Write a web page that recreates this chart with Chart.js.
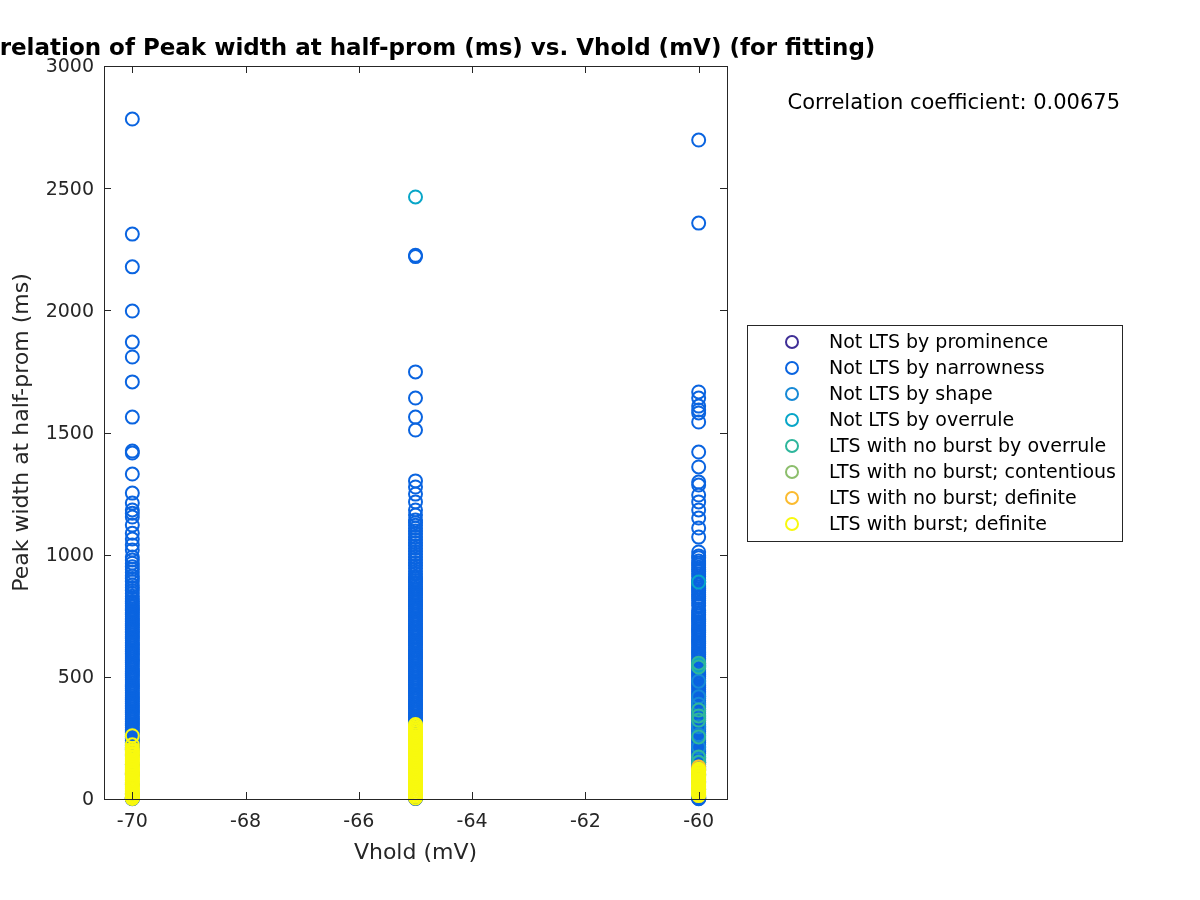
<!DOCTYPE html>
<html>
<head>
<meta charset="utf-8">
<script src="https://cdn.jsdelivr.net/npm/chart.js@4.4.1/dist/chart.umd.min.js"></script>
<style>
  body { margin: 0; background: #ffffff; }
  canvas { display: block; }
</style>
</head>
<body>
<canvas id="corrPlot" width="1200" height="900"></canvas>
<script>
// classes, in legend order
const classLabels = [
    "Not LTS by prominence",
    "Not LTS by narrowness",
    "Not LTS by shape",
    "Not LTS by overrule",
    "LTS with no burst by overrule",
    "LTS with no burst; contentious",
    "LTS with no burst; definite",
    "LTS with burst; definite"
];
const classColors = ["#3f2e96", "#0a64e0", "#1689d6", "#08a6c8", "#2eb69c", "#8cbe6c", "#fbbb30", "#f8f90e"];

// Vhold columns
const vholds = [-70, -65, -60];
const xTicks = [-70, -68, -66, -64, -62, -60];
const yTicks = [0, 500, 1000, 1500, 2000, 2500, 3000];
const corrCoef = "0.00675";

// peak widths (ms), per class, per Vhold column
const prominence70 = [4, 2];
const prominence65 = [3];
const prominence60 = [3, 6];

const narrowness70 = [2783, 2312, 2178, 1997, 1870, 1809, 1707, 1563, 1424, 1416, 1330, 1252, 1211, 1183, 1170, 1154,
    1121, 1088, 1064, 1040, 1019, 990, 978, 965, 951, 940, 928, 913, 902, 890, 876, 866, 853, 842, 830, 819, 808,
    800, 793, 786, 778, 771, 762, 755, 748, 740, 733, 725, 717, 710, 702, 694, 687, 680, 672, 664, 657, 650, 641, 634,
    627, 619, 611, 603, 596, 589, 581, 573, 566, 558, 551, 543, 535, 528, 521, 513, 505, 497, 490, 483, 475, 467, 460,
    452, 444, 437, 430, 422, 414, 407, 399, 391, 384, 377, 369, 361, 354, 346, 338, 331, 324, 316, 308, 301, 293, 285,
    278, 271, 263, 255, 248, 240, 232, 225, 218, 210, 202, 180, 140, 100, 60, 20, 4, 1];
const narrowness65 = [2225, 2220, 1748, 1641, 1563, 1510, 1302, 1277, 1248, 1216, 1183, 1162, 1142, 1131, 1120, 1108,
    1097, 1085, 1072, 1061, 1049, 1037, 1026, 1013, 1002, 990, 979, 967, 955, 944, 932, 921, 909, 901, 894, 886, 879,
    871, 863, 856, 848, 841, 833, 826, 818, 810, 803, 795, 788, 780, 772, 765, 757, 750, 742, 735, 727, 719, 712, 704,
    697, 689, 681, 674, 666, 659, 651, 644, 636, 628, 621, 613, 606, 598, 590, 583, 575, 568, 560, 553, 545, 537, 530,
    522, 515, 507, 499, 492, 484, 477, 469, 462, 454, 446, 439, 431, 424, 416, 408, 401, 393, 386, 378, 371, 363, 355,
    348, 340, 333, 325, 318, 310, 250, 190, 120, 60, 8, 2];
const narrowness60 = [2697, 2357, 1666, 1641, 1608, 1592, 1580, 1543, 1420, 1359, 1297, 1285, 1244, 1216, 1183, 1150,
    1109, 1072, 1011, 995, 987, 974, 966, 958, 949, 940, 931, 921, 912, 899, 891, 886, 876, 868, 861, 853, 846, 838,
    829, 822, 813, 802, 791, 771, 763, 756, 749, 741, 734, 726, 719, 711, 704, 696, 689, 681, 674, 666, 659, 651, 644,
    636, 629, 621, 614, 606, 599, 591, 584, 576, 569, 561, 554, 546, 539, 531, 524, 516, 509, 501, 494, 486, 479, 471,
    464, 456, 449, 441, 434, 426, 419, 411, 404, 396, 389, 381, 374, 366, 359, 351, 344, 336, 329, 321, 314, 306, 299,
    291, 284, 276, 269, 261, 254, 246, 239, 231, 224, 216, 209, 201, 194, 186, 179, 171, 164, 156, 149, 141, 134, 126,
    119, 100, 70, 40, 12, 6, 3, 1];

const shape70 = [];
const shape65 = [];
const shape60 = [482, 418, 388, 296, 262, 212, 168, 148];

const overrule70 = [];
const overrule65 = [2464];
const overrule60 = [888, 548, 542];

const noBurstOverrule70 = [];
const noBurstOverrule65 = [];
const noBurstOverrule60 = [556, 540, 364, 340, 323, 254, 172, 150, 131];

const contentious70 = [];
const contentious65 = [];
const contentious60 = [96];

const noBurstDefinite70 = [104, 6];
const noBurstDefinite65 = [160, 60];
const noBurstDefinite60 = [131, 118];

const burst70 = [259, 222, 206, 199, 193, 186, 180, 173, 167, 160, 154, 147, 141, 134, 128, 121, 115, 108, 102, 95,
    89, 82, 76, 69, 63, 56, 50, 43, 37, 30, 24, 17, 11, 5, 2];
const burst65 = [305, 298, 291, 284, 277, 270, 263, 256, 249, 242, 235, 228, 221, 214, 207, 200, 193, 186, 179, 172,
    165, 158, 151, 144, 137, 130, 123, 116, 109, 102, 95, 88, 81, 74, 67, 60, 53, 46, 39, 32, 25, 18, 11, 4];
const burst60 = [122, 116, 110, 104, 98, 92, 86, 80, 74, 68, 62, 56, 50, 44, 38, 32, 26, 20, 14];

const valuesByClass = [
    [prominence70, prominence65, prominence60],
    [narrowness70, narrowness65, narrowness60],
    [shape70, shape65, shape60],
    [overrule70, overrule65, overrule60],
    [noBurstOverrule70, noBurstOverrule65, noBurstOverrule60],
    [contentious70, contentious65, contentious60],
    [noBurstDefinite70, noBurstDefinite65, noBurstDefinite60],
    [burst70, burst65, burst60]
];

const axisColor = '#262626';
const fontName = "'DejaVu Sans', sans-serif";

const datasets = classLabels.map((label, i) => {
    const points = [];
    valuesByClass[i].forEach((col, j) => {
        col.forEach(v => points.push({ x: vholds[j], y: v }));
    });
    return {
        label: label,
        data: points,
        showLine: false,
        pointStyle: 'circle',
        pointRadius: 6.5,
        pointHoverRadius: 6.5,
        pointBorderWidth: 2,
        borderColor: classColors[i],
        backgroundColor: 'rgba(0,0,0,0)',
        pointBackgroundColor: 'rgba(0,0,0,0)',
        clip: false,
        order: classLabels.length - i // later classes on top, as in the original
    };
});

// box, inward ticks, title, coefficient text and legend
const decorations = {
    id: 'decorations',
    afterDraw(chart) {
        const c = chart.ctx;
        const area = chart.chartArea;
        const xs = chart.scales.x;
        const ys = chart.scales.y;
        const tickLen = 7;
        c.save();
        c.strokeStyle = axisColor;
        c.lineWidth = 1;
        c.strokeRect(area.left + 0.5, area.top + 0.5, area.right - area.left, area.bottom - area.top);
        c.beginPath();
        xTicks.forEach(v => {
            const px = Math.round(xs.getPixelForValue(v)) + 0.5;
            c.moveTo(px, area.bottom); c.lineTo(px, area.bottom - tickLen);
            c.moveTo(px, area.top); c.lineTo(px, area.top + tickLen);
        });
        yTicks.forEach(v => {
            const py = Math.round(ys.getPixelForValue(v)) + 0.5;
            c.moveTo(area.left, py); c.lineTo(area.left + tickLen, py);
            c.moveTo(area.right, py); c.lineTo(area.right - tickLen, py);
        });
        c.stroke();

        // title centred over the axes (runs off the left edge like the original)
        c.fillStyle = '#000000';
        c.font = 'bold 23px ' + fontName;
        c.textAlign = 'center';
        c.textBaseline = 'middle';
        c.fillText('Correlation of Peak width at half-prom (ms) vs. Vhold (mV) (for fitting)', (area.left + area.right) / 2, 49);

        c.font = '21px ' + fontName;
        c.textAlign = 'right';
        c.fillText('Correlation coefficient: ' + corrCoef, 1120, 104);

        // legend
        const lx = 747, ly = 325, lw = 375, lh = 216;
        c.fillStyle = '#ffffff';
        c.fillRect(lx, ly, lw, lh);
        c.lineWidth = 1;
        c.strokeStyle = axisColor;
        c.strokeRect(lx + 0.5, ly + 0.5, lw, lh);
        c.font = '19px ' + fontName;
        c.textAlign = 'left';
        chart.data.datasets.forEach((ds, i) => {
            const cy = ly + 17 + i * 26;
            c.beginPath();
            c.lineWidth = 2;
            c.strokeStyle = ds.borderColor;
            c.arc(792, cy, 6, 0, Math.PI * 2);
            c.stroke();
            c.fillStyle = '#000000';
            c.fillText(ds.label, 829, cy + 1);
        });
        c.restore();
    }
};

new Chart(document.getElementById('corrPlot').getContext('2d'), {
    type: 'scatter',
    data: { datasets: datasets },
    plugins: [decorations],
    options: {
        responsive: false,
        animation: false,
        events: [],
        layout: { padding: { left: 0, right: 473, top: 66, bottom: 0 } },
        plugins: {
            legend: { display: false },
            tooltip: { enabled: false },
            title: { display: false }
        },
        scales: {
            x: {
                type: 'linear',
                min: -70.5,
                max: -59.5,
                afterFit: scale => { scale.height = 101; },
                afterBuildTicks: scale => { scale.ticks = xTicks.map(v => ({ value: v })); },
                grid: { display: false },
                border: { display: false },
                ticks: {
                    color: axisColor,
                    padding: 4,
                    font: { family: fontName, size: 19 },
                    callback: v => String(v)
                },
                title: {
                    display: true,
                    text: 'Vhold (mV)',
                    color: axisColor,
                    font: { family: fontName, size: 22 },
                    padding: { top: 0, bottom: 34 }
                }
            },
            y: {
                type: 'linear',
                min: 0,
                max: 3000,
                afterFit: scale => { scale.width = 104; },
                afterBuildTicks: scale => { scale.ticks = yTicks.map(v => ({ value: v })); },
                grid: { display: false },
                border: { display: false },
                ticks: {
                    color: axisColor,
                    padding: 2,
                    labelOffset: 1.5,
                    font: { family: fontName, size: 19 },
                    callback: v => String(v)
                },
                title: {
                    display: true,
                    text: 'Peak width at half-prom (ms)',
                    color: axisColor,
                    font: { family: fontName, size: 22 },
                    padding: { top: 9, bottom: 0 }
                }
            }
        }
    }
});
</script>
</body>
</html>
